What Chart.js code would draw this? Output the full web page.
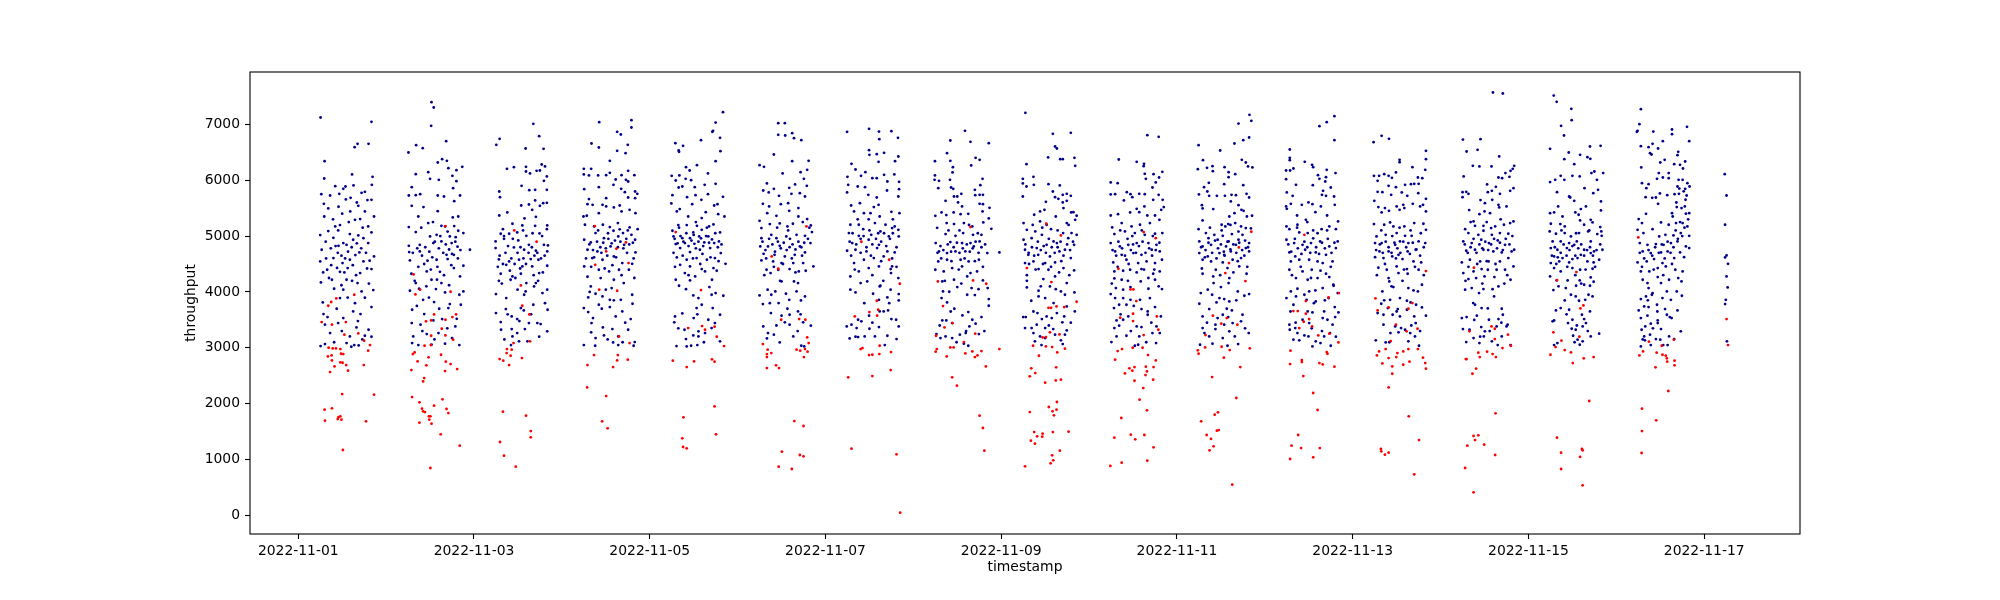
<!DOCTYPE html>
<html>
<head>
<meta charset="utf-8">
<script src="https://cdn.jsdelivr.net/npm/chart.js@4.4.1/dist/chart.umd.min.js"></script>
<style>
  html, body { margin: 0; padding: 0; background: #fff; }
  #wrap { width: 2000px; height: 600px; }
</style>
</head>
<body>
<div id="wrap"><canvas id="chart" width="2000" height="600"></canvas></div>
<script>
// timestamps are kept as [hour of day, throughput] per calendar day
const dayLabels = ['2022-11-01', '2022-11-02', '2022-11-03', '2022-11-04', '2022-11-05', '2022-11-06',
    '2022-11-07', '2022-11-08', '2022-11-09', '2022-11-10', '2022-11-11', '2022-11-12',
    '2022-11-13', '2022-11-14', '2022-11-15', '2022-11-16', '2022-11-17'];
const xTickDays = [0, 2, 4, 6, 8, 10, 12, 14, 16];
const yTicks = [0, 1000, 2000, 3000, 4000, 5000, 6000, 7000];

// normal readings (dark blue)
const blue01 = [[6.1,7121],[20.0,7043],[15.4,6590],[16.2,6650],[19.2,6650],[7.2,6340],[7.1,6030],[14.7,6102],[20.3,6060],[20.1,5917],[10.1,5893],[12.3,5845],[12.9,5887],[15.1,5905],[6.3,5750],[8.7,5726],[11.2,5756],[14.3,5684],[17.3,5774],[18.2,5792],[7.0,5577],[13.0,5655],[20.0,5649],[8.2,5494],[11.0,5524],[14.2,5440],[16.4,5541],[18.9,5643],[7.1,5350],[18.2,5440],[20.7,5350],[10.1,5172],[11.4,5196],[15.5,5291],[16.9,5303],[19.1,5172],[6.0,5017],[8.2,5089],[14.1,5035],[16.4,5011],[20.0,5065],[9.6,4969],[12.3,4874],[15.0,4934],[17.8,4963],[19.1,4874],[6.4,4755],[11.0,4826],[13.2,4844],[16.7,4707],[20.7,4635],[6.0,4546],[9.6,4606],[12.1,4516],[14.1,4576],[17.8,4546],[20.0,4409],[7.9,4397],[11.4,4361],[13.5,4427],[16.9,4337],[6.2,4171],[9.2,4218],[13.2,4218],[16.2,4159],[9.8,4057],[12.3,4040],[17.3,4010],[20.5,4034],[6.7,3813],[11.4,3890],[18.2,3896],[6.9,3604],[12.3,3533],[15.0,3652],[17.0,3604],[20.0,3729],[7.3,3414],[10.9,3444],[15.9,3366],[19.2,3324],[8.7,3265],[14.1,3205],[18.2,3217],[20.0,3199],[6.1,3032],[7.3,3068],[13.2,3086],[15.3,3050],[16.5,3044],
    [7.5,4900],[8.9,4780],[10.2,4820],[10.8,4700],[11.8,4650],[12.8,4600],[13.6,4720],[14.6,4800],[15.6,4660],[16.0,4870],[17.2,4780],[18.5,4700],[19.5,4560],[9.0,4480],[10.6,4430],[12.6,4350],[14.9,4480],[15.8,4300],[18.8,4420],[8.4,4250],[11.8,4120],[14.7,4200],[19.3,4150],[7.6,4600],[6.8,4350],[10.9,5100],[13.8,5250],[17.6,5150],[12.0,5400],[16.0,5600],[9.5,5300],[13.5,3900],[15.5,3800],[10.5,3700],[8.0,3550],[16.3,3480],[11.9,3300],[17.5,3150],[9.8,3100],[14.5,3020]];
const blue02 = [[12.4,7395],[13.0,7300],[12.3,6972],[6.1,6495],[8.2,6626],[10.0,6572],[16.4,6698],[14.1,6316],[15.3,6376],[16.6,6346],[20.8,6239],[17.0,6215],[19.2,6179],[8.1,6108],[11.5,6143],[14.4,6006],[18.1,6078],[12.0,6024],[7.0,5875],[19.2,5982],[18.3,5857],[6.2,5726],[8.1,5732],[9.3,5750],[14.1,5726],[15.8,5708],[20.2,5726],[18.6,5625],[7.0,5541],[10.2,5518],[14.1,5446],[18.2,5333],[19.7,5350],[6.2,5160],[8.8,5350],[11.5,5232],[15.1,5184],[16.1,5172],[18.6,5178],[8.1,5071],[12.0,4993],[13.8,5023],[17.4,4993],[21.1,5053],[19.7,5095],[6.2,4826],[9.2,4844],[12.9,4874],[15.1,4904],[17.9,4874],[22.9,4755],[6.3,4713],[9.2,4725],[16.5,4665],[18.5,4665],[6.5,4564],[11.3,4558],[13.8,4576],[16.8,4588],[21.1,4469],[6.9,4326],[11.1,4367],[14.7,4361],[20.2,4278],[18.5,4427],[8.1,4159],[12.4,4218],[15.1,4159],[6.5,4022],[9.0,4057],[13.6,4051],[16.1,3992],[21.1,4010],[10.1,3860],[13.1,3819],[17.4,3783],[7.1,3682],[10.4,3604],[17.0,3712],[20.4,3771],[7.0,3444],[9.4,3414],[12.9,3491],[15.3,3515],[18.9,3384],[7.4,3205],[11.1,3247],[14.3,3265],[18.0,3175],[7.1,3086],[8.8,3050],[12.4,3056],[16.1,3074],
    [7.3,4700],[8.5,4780],[9.8,4650],[10.7,4800],[11.8,4720],[12.6,4620],[13.3,4900],[14.4,4780],[15.6,4700],[16.3,4850],[17.2,4760],[18.0,4680],[18.9,4900],[19.5,4810],[20.3,4750],[8.8,4450],[10.4,4500],[12.2,4400],[14.0,4450],[15.8,4300],[17.8,4480],[19.6,4600],[9.6,5150],[12.8,5250],[14.8,5000],[16.8,5080],[19.0,4980],[7.8,4200],[11.0,4100],[13.9,4220],[17.2,4120],[20.0,3950],[8.4,3750],[11.7,3900],[14.5,3700],[19.3,3520],[9.9,3300],[13.2,3150],[16.7,3350],[20.0,3050]];
const blue03 = [[16.2,7008],[17.8,6787],[7.0,6739],[6.1,6632],[14.1,6566],[19.0,6560],[9.0,6203],[10.9,6233],[14.2,6239],[14.2,6155],[15.3,6120],[17.1,6167],[18.0,6173],[18.5,6280],[19.4,6245],[19.9,6066],[19.1,5988],[13.0,5899],[6.9,5797],[7.1,5696],[15.1,5821],[16.7,5827],[19.9,5827],[12.9,5547],[15.0,5565],[16.7,5637],[18.0,5541],[18.9,5589],[19.9,5595],[15.9,5470],[6.9,5368],[9.1,5422],[13.8,5315],[16.9,5345],[10.5,5220],[13.2,5190],[16.7,5184],[20.0,5190],[19.9,5124],[7.9,5124],[7.3,5041],[9.6,5041],[11.8,5065],[14.3,5005],[17.9,5047],[5.9,4904],[8.2,4951],[12.1,4922],[15.0,4844],[19.1,4844],[20.2,4832],[5.9,4785],[10.9,4796],[13.7,4755],[16.9,4737],[20.0,4725],[6.8,4582],[9.6,4546],[12.3,4576],[15.5,4588],[17.6,4576],[8.8,4486],[13.2,4457],[15.9,4457],[20.0,4469],[7.3,4326],[10.5,4278],[12.8,4326],[17.8,4337],[6.8,4200],[10.0,4218],[14.3,4159],[16.9,4159],[20.0,4040],[6.0,3962],[8.8,3890],[11.9,4040],[14.1,4010],[16.4,4099],[18.7,3980],[8.7,3694],[12.8,3712],[16.2,3771],[20.1,3682],[6.0,3622],[10.3,3563],[13.6,3670],[18.2,3426],[7.3,3462],[11.8,3515],[15.0,3444],[20.0,3295],[7.4,3324],[10.3,3336],[11.8,3265],[13.9,3336],[17.3,3444],[10.5,3205],[12.3,3116],[14.6,3116],[10.1,3050],
    [7.0,4650],[7.9,4500],[8.6,4700],[9.3,4820],[10.2,4600],[11.1,4500],[11.9,4700],[12.7,4800],[13.5,4600],[14.2,4500],[14.9,4700],[15.8,4800],[16.5,4650],[17.3,4700],[18.3,4600],[19.3,4650],[6.5,4450],[9.8,4380],[12.6,4420],[16.3,4300],[18.8,4350],[8.2,5000],[10.6,4950],[13.4,5100],[16.0,5050],[18.6,5000],[7.6,4150],[11.3,4250],[13.7,3950],[17.5,4200],[19.4,3800],[9.2,3600],[12.4,3480],[15.6,3600],[17.8,3200],[8.3,3150]];
const blue04 = [[10.2,7037],[19.0,7073],[19.0,6942],[15.1,6864],[16.1,6817],[8.1,6656],[10.1,6584],[18.0,6632],[15.1,6525],[13.1,6346],[17.4,6483],[6.0,6203],[8.0,6203],[6.0,6102],[7.4,6084],[9.9,6084],[12.1,6090],[13.1,6131],[14.7,6012],[16.3,6090],[18.1,6167],[19.8,6090],[14.1,5917],[16.2,5845],[17.5,6006],[18.1,5976],[6.1,5839],[10.1,5875],[17.2,5786],[20.0,5797],[20.6,5756],[7.4,5661],[12.1,5678],[18.1,5690],[20.0,5678],[7.0,5571],[8.4,5559],[11.1,5559],[14.2,5512],[15.8,5547],[18.5,5470],[10.1,5410],[12.1,5530],[16.3,5440],[20.1,5410],[5.9,5350],[8.8,5172],[11.2,5202],[13.1,5160],[15.3,5232],[18.5,5154],[20.7,5124],[6.3,5202],[6.8,5363],[9.2,5053],[14.1,5095],[16.7,5053],[19.0,5023],[6.1,4934],[7.9,4886],[11.5,4963],[15.4,4993],[20.0,4934],[7.0,4755],[9.7,4725],[13.3,4814],[17.0,4844],[20.1,4707],[8.3,4606],[11.1,4576],[14.2,4635],[16.5,4516],[19.2,4504],[6.1,4457],[10.1,4397],[12.9,4367],[15.6,4397],[18.3,4397],[7.0,4272],[10.6,4248],[14.2,4218],[16.9,4159],[7.9,4099],[12.0,4040],[13.6,4069],[19.2,3950],[7.2,3902],[9.2,3968],[11.1,3920],[13.1,3860],[16.1,3860],[10.1,3771],[13.1,3729],[16.5,3652],[19.3,3789],[6.0,3712],[8.5,3533],[14.7,3563],[18.8,3515],[7.2,3640],[8.1,3444],[11.2,3366],[13.8,3336],[18.1,3324],[8.0,3277],[9.2,3175],[11.5,3223],[15.4,3205],[6.0,3050],[9.1,3038],[14.0,3098],[15.4,3050],[19.6,3038],[19.9,3104],
    [7.5,4850],[8.5,4750],[9.6,4900],[10.5,4800],[11.3,4880],[12.0,4780],[12.7,4950],[13.6,4870],[14.5,4920],[15.3,4800],[16.0,4900],[16.8,4780],[17.6,4950],[18.4,4850],[19.4,4880],[6.6,4600],[8.8,4620],[10.8,4700],[12.4,4650],[14.8,4620],[17.8,4700],[19.6,4600],[9.9,5100],[12.6,5050],[15.8,5120],[18.0,5100],[8.0,4450],[11.7,4420],[13.8,4480],[16.3,4300],[19.8,4250],[7.6,4000],[10.9,3700],[14.2,3850],[17.3,3450],[12.5,3150],[16.6,3100]];
const blue05 = [[20.0,7216],[18.0,7031],[17.3,6882],[17.1,6864],[7.0,6662],[9.1,6614],[7.9,6531],[8.0,6507],[14.0,6716],[19.2,6757],[19.3,6519],[18.0,6340],[9.9,6233],[12.9,6269],[10.9,6173],[6.0,6078],[8.1,6084],[15.9,6120],[7.1,5994],[9.8,6024],[11.3,6000],[7.9,5869],[8.9,5887],[12.3,5875],[15.0,5917],[18.0,5935],[6.2,5732],[10.2,5696],[12.5,5732],[15.9,5750],[20.0,5702],[5.9,5583],[8.2,5482],[11.6,5571],[14.1,5649],[17.6,5547],[18.5,5571],[7.4,5440],[10.5,5350],[15.3,5428],[18.7,5392],[20.4,5350],[10.1,5196],[12.9,5184],[14.2,5321],[16.2,5172],[17.4,5208],[6.2,5095],[7.8,5196],[11.9,5065],[14.2,5112],[19.2,5065],[6.5,4993],[8.9,4963],[11.0,4963],[13.5,4993],[16.0,4993],[18.9,4904],[7.1,4856],[9.6,4874],[12.2,4862],[14.9,4886],[17.6,4874],[8.3,4785],[11.0,4713],[13.7,4755],[16.5,4785],[19.4,4695],[7.4,4618],[10.1,4576],[12.8,4606],[15.6,4576],[17.8,4606],[8.3,4486],[11.0,4457],[14.2,4409],[17.4,4427],[20.7,4504],[7.1,4218],[9.6,4337],[12.4,4278],[15.1,4367],[18.3,4379],[8.0,4111],[11.0,4206],[17.0,4218],[16.3,4087],[11.9,3938],[13.3,3890],[18.0,3980],[20.1,3932],[14.2,3771],[17.2,3712],[12.8,3712],[19.2,3592],[6.9,3563],[8.9,3616],[12.0,3533],[16.0,3503],[6.7,3456],[9.5,3324],[11.9,3223],[13.3,3295],[16.9,3354],[17.8,3444],[9.9,3158],[13.3,3205],[15.1,3265],[19.2,3116],[7.3,3032],[10.1,3026],[11.3,3038],[13.0,3050],
    [6.8,4950],[7.6,4870],[8.4,5000],[9.2,4900],[10.0,5050],[10.6,4820],[11.4,4920],[12.0,5020],[12.6,4780],[13.3,4900],[14.0,4960],[14.6,4820],[15.4,5000],[16.2,4880],[17.0,4940],[17.9,5050],[18.6,4800],[6.5,4700],[9.0,4650],[11.8,4600],[14.4,4680],[16.6,4620],[19.6,4850],[8.0,5150],[12.6,5250],[15.6,5150],[6.9,4450],[10.6,4300],[13.8,4500],[18.8,4550],[9.9,4050],[13.0,3600],[16.9,3950],[7.8,3350],[14.8,3100]];
const blue06 = [[11.1,7019],[12.9,7019],[11.1,6811],[13.0,6799],[14.9,6841],[15.4,6751],[17.4,6716],[9.9,6459],[6.0,6269],[7.2,6239],[14.9,6340],[19.4,6346],[19.0,6185],[17.2,6143],[12.3,6120],[8.0,5941],[7.0,5815],[14.1,5863],[15.7,5923],[18.1,6024],[18.9,5899],[8.5,5780],[9.9,5845],[11.3,5720],[14.7,5756],[17.0,5768],[18.4,5708],[6.9,5577],[8.6,5530],[11.8,5571],[13.8,5589],[16.6,5500],[8.1,5410],[10.6,5362],[14.1,5452],[16.6,5350],[19.0,5303],[6.0,5273],[6.5,5142],[8.8,5214],[11.5,5226],[13.6,5172],[15.1,5220],[20.0,5190],[6.5,4963],[9.2,5023],[10.6,4963],[13.3,4993],[16.1,5023],[18.4,5005],[20.3,5071],[6.2,4814],[8.3,4814],[11.5,4826],[14.2,4802],[17.0,4814],[19.9,4874],[7.1,4683],[10.1,4665],[12.9,4635],[15.6,4665],[18.4,4707],[6.5,4564],[9.7,4546],[12.0,4516],[15.2,4516],[17.9,4516],[20.7,4457],[7.9,4397],[11.1,4397],[14.2,4409],[16.7,4367],[18.6,4379],[9.0,4337],[12.0,4189],[15.4,4189],[16.5,4159],[8.2,4040],[10.3,4010],[13.2,3968],[16.1,4010],[17.3,3849],[6.0,3938],[6.9,3783],[9.2,3950],[11.2,3801],[14.1,3860],[18.4,3920],[9.1,3622],[12.0,3575],[14.2,3592],[16.5,3652],[7.0,3384],[8.3,3265],[9.9,3235],[12.9,3456],[14.2,3414],[17.9,3456],[20.0,3396],[8.0,3169],[11.5,3098],[15.2,3205],[17.4,3038],[18.2,3026],
    [6.8,4900],[7.6,4750],[8.6,4950],[9.5,4850],[10.2,4720],[11.0,4900],[11.8,4780],[12.6,4880],[13.4,4750],[14.3,4950],[15.0,4850],[15.8,4760],[16.6,4900],[17.4,4800],[18.2,4880],[19.2,4950],[7.8,4600],[9.9,4450],[12.4,4500],[14.8,4600],[17.6,4650],[10.8,5150],[13.8,5100],[17.8,5250],[19.6,5150],[7.3,4300],[11.6,4200],[15.8,4350],[8.8,3800],[13.6,3700],[17.2,3600],[10.6,3400],[16.4,3300]];
const blue07 = [[5.9,6864],[11.9,6918],[14.6,6870],[18.0,6876],[14.7,6733],[19.8,6757],[11.9,6537],[12.0,6453],[14.0,6465],[16.0,6489],[14.5,6328],[19.0,6340],[19.9,6423],[7.1,6292],[8.2,6191],[10.9,6143],[6.0,6060],[9.7,6078],[12.8,6036],[16.0,6096],[18.8,6102],[20.1,5970],[6.2,5917],[8.8,5887],[10.8,5875],[14.0,6036],[16.9,5976],[20.1,5839],[5.9,5780],[11.7,5738],[14.0,5690],[16.8,5815],[19.9,5708],[7.0,5547],[9.4,5589],[13.2,5518],[14.5,5559],[20.2,5410],[7.8,5440],[10.5,5410],[12.3,5410],[18.0,5434],[6.8,5202],[9.1,5202],[13.5,5232],[16.4,5202],[18.9,5172],[6.4,5053],[10.3,5124],[12.5,5023],[15.0,5083],[18.2,5142],[19.9,5112],[7.3,4874],[9.1,5005],[11.8,4934],[14.6,4844],[17.3,4993],[20.0,4993],[5.9,4737],[8.2,4755],[11.2,4725],[14.1,4785],[16.9,4725],[18.9,4707],[7.8,4516],[10.5,4576],[13.2,4606],[15.9,4635],[18.2,4457],[6.8,4278],[9.1,4367],[11.8,4427],[14.6,4457],[17.8,4409],[9.6,4159],[11.4,4189],[14.8,4099],[17.9,4337],[19.9,4248],[6.8,4040],[8.2,3992],[15.0,4111],[17.8,4040],[20.0,3962],[13.0,3968],[14.6,3860],[20.0,3849],[16.9,3902],[14.8,3652],[15.9,3652],[17.1,3670],[11.9,3575],[8.9,3503],[9.8,3474],[18.0,3515],[19.3,3503],[5.8,3384],[7.1,3414],[8.5,3354],[12.0,3342],[14.6,3372],[20.0,3384],[6.6,3169],[8.9,3193],[10.7,3205],[13.5,3205],[16.9,3217],[19.4,3158],
    [6.6,4900],[7.4,5050],[8.4,4850],[9.6,4950],[10.4,5000],[11.2,4800],[12.0,5100],[12.8,4850],[13.8,4950],[14.4,5050],[15.2,4900],[16.0,5050],[16.6,4820],[17.6,4950],[18.4,5050],[19.4,4800],[7.0,4650],[9.6,4700],[12.4,4650],[15.2,4550],[18.2,4600],[8.8,5300],[11.8,5300],[14.8,5350],[18.4,5300],[8.0,4400],[12.8,4300],[15.8,4200],[19.4,4450],[10.6,3800],[17.4,3800],[12.8,3450],[8.2,3200],[16.2,3050]];
const blue08 = [[14.1,6882],[10.1,6710],[15.6,6686],[20.6,6662],[9.2,6483],[5.9,6340],[10.1,6346],[17.0,6400],[18.1,6364],[15.8,6263],[10.8,6233],[10.7,6138],[5.9,6084],[5.8,6006],[10.0,6006],[7.0,5988],[18.9,6024],[18.3,5911],[6.8,5857],[10.9,5845],[10.3,5869],[16.8,5827],[18.1,5738],[19.0,5738],[16.9,5732],[13.1,5756],[12.0,5708],[11.1,5708],[8.8,5631],[12.2,5601],[13.3,5530],[18.1,5577],[19.0,5571],[20.8,5506],[7.7,5422],[9.0,5375],[11.0,5422],[12.9,5392],[15.0,5398],[18.9,5440],[20.6,5315],[6.0,5362],[6.5,5148],[9.1,5232],[11.1,5214],[13.8,5232],[16.1,5172],[19.1,5244],[8.8,5035],[11.5,5005],[13.6,5053],[16.3,5023],[18.6,5023],[21.3,5130],[6.1,4874],[10.1,4892],[13.3,4874],[15.6,4874],[18.1,4904],[7.0,4725],[9.2,4695],[11.5,4725],[14.2,4725],[16.5,4814],[20.2,4695],[23.5,4707],[6.8,4546],[9.2,4576],[12.9,4576],[15.1,4546],[17.9,4576],[6.0,4397],[8.3,4367],[10.6,4427],[13.3,4457],[15.6,4337],[17.4,4367],[7.9,4189],[11.1,4218],[14.7,4278],[19.0,4206],[20.3,4069],[8.1,4010],[9.8,4004],[12.0,4087],[15.9,4069],[7.7,3890],[9.2,3813],[11.2,3700],[14.7,3950],[16.8,3944],[20.6,3872],[20.6,3753],[13.4,3581],[15.0,3640],[16.1,3503],[7.9,3491],[9.0,3491],[10.6,3444],[15.3,3384],[17.0,3432],[6.3,3247],[7.4,3175],[8.8,3205],[10.6,3175],[14.3,3265],[17.9,3247],[19.4,3300],[12.7,3235],[15.0,3038],[13.8,3074],
    [6.6,4700],[7.4,4820],[8.2,4750],[9.4,4850],[10.3,4720],[11.0,4800],[11.9,4880],[12.6,4700],[13.5,4780],[14.6,4850],[15.4,4720],[16.2,4780],[17.0,4900],[17.8,4700],[18.6,4800],[19.6,4850],[7.6,4600],[10.4,4550],[12.4,4400],[14.0,4600],[16.8,4550],[19.0,4450],[9.6,5100],[12.6,5100],[15.2,5200],[17.6,5050],[8.6,4200],[13.1,4150],[17.8,4050],[10.2,3650],[14.4,3300],[18.6,3550],[7.2,3400],[11.8,3100]];
const blue09 = [[6.6,7204],[14.1,6829],[19.0,6847],[14.7,6602],[15.2,6566],[12.8,6406],[16.1,6376],[16.8,6376],[20.0,6400],[20.2,6257],[6.9,6286],[5.9,6024],[5.9,5941],[8.8,6060],[8.9,5917],[6.9,5887],[12.9,5929],[16.0,5905],[5.9,5708],[14.1,5797],[14.7,5696],[17.9,5756],[19.0,5720],[15.6,5666],[16.8,5738],[12.2,5613],[16.8,5601],[17.9,5631],[11.8,5470],[10.6,5440],[9.0,5381],[17.0,5500],[19.1,5422],[19.7,5428],[20.6,5363],[6.1,5232],[10.6,5261],[12.4,5202],[14.9,5350],[17.9,5232],[20.2,5291],[7.0,5112],[9.3,5083],[13.6,5124],[16.9,5053],[19.2,5053],[6.1,4934],[8.3,4963],[11.1,5023],[14.3,4904],[18.3,4963],[20.6,5023],[6.5,4755],[9.7,4785],[12.4,4844],[15.2,4874],[17.4,4755],[19.9,4844],[7.4,4665],[10.1,4665],[13.3,4635],[15.9,4725],[19.0,4606],[6.5,4516],[8.8,4546],[12.0,4516],[14.7,4528],[17.0,4427],[10.2,4409],[12.9,4397],[15.8,4349],[19.9,4385],[7.0,4200],[11.5,4230],[14.7,4278],[17.9,4159],[7.0,4081],[10.2,4022],[13.3,4099],[16.3,4010],[20.0,3992],[8.2,3843],[10.2,3920],[12.0,3890],[14.3,3801],[17.9,3741],[9.9,3622],[12.4,3563],[15.2,3622],[17.2,3563],[20.1,3652],[6.0,3551],[6.7,3551],[11.1,3515],[13.8,3533],[16.7,3456],[6.5,3354],[8.3,3354],[9.7,3414],[12.0,3354],[14.2,3336],[17.9,3312],[8.8,3265],[10.6,3205],[14.7,3235],[16.3,3134],[17.4,3235],[9.2,3116],[12.0,3175],[16.8,3068],
    [6.6,4850],[7.5,4700],[8.4,4800],[9.0,4650],[10.0,4900],[10.8,4750],[11.6,4820],[12.2,4700],[13.0,4950],[13.8,4800],[14.6,4700],[15.4,4800],[16.2,4900],[17.0,4650],[18.0,4850],[18.8,4750],[19.6,4900],[7.6,4500],[9.4,4400],[11.4,4500],[13.6,4450],[16.4,4550],[18.6,4300],[8.6,5200],[11.2,5150],[15.4,5100],[18.4,5200],[7.0,4300],[10.8,4100],[14.9,4050],[17.4,3950],[8.8,3650],[13.0,3400],[19.0,3450],[11.0,3050]];
const blue10 = [[15.9,6805],[19.0,6775],[8.1,6370],[13.0,6328],[15.0,6292],[14.9,6251],[15.2,6114],[17.6,6108],[19.1,6048],[20.0,6149],[15.5,6024],[5.9,5959],[7.8,5947],[18.2,5959],[17.3,5869],[5.9,5744],[7.1,5750],[10.3,5786],[11.3,5750],[13.7,5756],[15.2,5750],[19.0,5738],[9.5,5637],[11.8,5696],[15.1,5530],[17.5,5649],[20.1,5649],[5.9,5368],[7.9,5392],[11.2,5422],[13.0,5488],[13.7,5428],[15.9,5368],[18.0,5368],[19.7,5470],[20.4,5518],[6.3,5154],[8.9,5232],[11.6,5172],[13.9,5202],[16.6,5232],[19.2,5291],[6.9,5035],[9.8,5083],[12.5,5053],[15.2,5023],[18.0,5041],[20.0,5053],[5.9,4874],[8.4,4814],[10.7,4844],[13.0,4874],[16.2,4874],[18.4,4844],[7.1,4725],[8.9,4665],[12.1,4695],[14.3,4665],[17.1,4755],[19.3,4725],[6.6,4528],[10.2,4576],[13.4,4516],[15.7,4546],[18.0,4516],[19.9,4576],[6.9,4367],[9.3,4379],[11.2,4397],[14.3,4409],[17.5,4326],[19.3,4367],[6.9,4242],[8.9,4218],[14.1,4189],[18.0,4218],[7.3,4069],[9.3,4040],[11.3,4087],[16.2,4057],[19.9,4051],[5.9,3962],[7.1,3890],[9.3,3890],[11.3,3860],[13.9,3860],[16.6,3890],[6.8,3712],[8.2,3771],[10.2,3771],[14.3,3694],[16.0,3652],[18.0,3729],[7.5,3491],[9.3,3503],[10.7,3563],[16.0,3592],[19.6,3563],[6.9,3354],[8.2,3396],[13.0,3384],[14.3,3372],[18.4,3384],[7.5,3205],[10.2,3217],[13.7,3205],[17.3,3265],[19.3,3265],[6.1,3104],[12.5,3038],[13.4,3056],[18.3,3086],
    [6.4,4750],[7.4,4650],[8.0,4900],[9.0,4780],[9.8,4650],[10.5,4950],[11.4,4750],[12.0,4850],[12.8,4700],[13.6,4820],[14.6,4900],[15.4,4700],[16.4,4780],[17.2,4650],[18.2,4750],[19.2,4880],[7.8,4450],[10.8,4500],[13.0,4350],[15.0,4400],[17.8,4400],[8.5,5100],[11.8,5000],[14.4,5100],[17.4,5000],[6.2,4150],[10.6,4200],[16.2,4250],[19.0,4100],[8.6,3600],[12.2,3750],[17.0,3450],[11.4,3300],[15.6,3100]];
const blue11 = [[19.8,7168],[20.3,7061],[16.8,7013],[18.1,6716],[19.7,6763],[15.7,6656],[5.9,6626],[11.8,6531],[7.1,6358],[17.7,6364],[18.8,6316],[19.4,6245],[20.6,6227],[5.7,6197],[8.2,6221],[9.7,6251],[9.8,6161],[13.0,6233],[14.1,6143],[15.9,6108],[14.1,6054],[8.7,5953],[12.9,5929],[18.1,5911],[7.4,5875],[8.3,5797],[6.0,5744],[8.8,5720],[10.9,5720],[13.1,5720],[14.9,5738],[16.1,5732],[19.0,5756],[19.7,5690],[6.8,5553],[7.0,5494],[9.9,5482],[14.7,5619],[16.8,5553],[17.6,5470],[18.2,5452],[14.3,5350],[15.7,5410],[19.1,5350],[20.5,5363],[7.0,5279],[12.2,5202],[13.2,5172],[14.0,5214],[15.9,5232],[17.5,5172],[18.8,5142],[20.2,5136],[5.9,5124],[7.9,5053],[10.2,5023],[12.5,5005],[15.0,5035],[17.9,5023],[6.1,4904],[8.6,4963],[11.1,4934],[14.1,4904],[16.8,4934],[19.7,4874],[7.0,4814],[9.3,4844],[13.4,4814],[16.1,4844],[18.8,4785],[6.1,4695],[8.4,4635],[11.6,4695],[12.9,4665],[14.7,4725],[19.7,4725],[7.0,4576],[9.3,4546],[12.5,4528],[15.2,4576],[17.5,4606],[10.6,4397],[13.8,4427],[17.0,4457],[7.0,4326],[9.9,4278],[14.3,4248],[19.0,4326],[10.0,4159],[14.1,4159],[8.4,4040],[12.0,4087],[16.6,4010],[19.7,3962],[6.5,3980],[11.6,3890],[12.9,3872],[18.4,3932],[10.8,3813],[14.3,3831],[6.1,3789],[8.8,3694],[7.0,3563],[11.1,3533],[12.5,3592],[15.0,3670],[17.9,3592],[10.5,3414],[12.9,3414],[15.2,3444],[17.5,3474],[7.0,3354],[10.5,3336],[14.3,3295],[19.6,3265],[7.5,3265],[8.8,3205],[12.5,3175],[15.8,3205],[6.3,3056],[9.7,3074],[13.8,3038],[16.7,3068],
    [6.6,4800],[7.8,4750],[8.6,4880],[9.6,4700],[10.4,4920],[11.2,4780],[12.0,4850],[12.8,4720],[13.8,4900],[14.6,4760],[15.4,4850],[16.2,4700],[17.0,4880],[17.8,4750],[18.6,4920],[19.4,4800],[7.6,4620],[10.8,4600],[13.0,4650],[16.6,4550],[18.4,4650],[9.0,5150],[12.2,5100],[14.6,5200],[16.8,5080],[6.8,4420],[11.8,4300],[15.4,4350],[19.2,4450],[9.6,3950],[13.6,3700],[16.2,3850],[8.2,3450],[14.0,3550],[18.6,3350]];
const blue12 = [[19.0,7145],[16.9,7037],[14.9,6966],[19.0,6716],[6.8,6549],[6.8,6400],[6.8,6358],[10.9,6328],[12.9,6275],[13.2,6233],[5.8,6173],[6.9,6173],[7.8,6209],[16.9,6185],[19.3,6126],[14.5,6090],[14.9,6024],[16.7,6054],[5.8,6018],[8.5,5917],[13.1,5911],[16.5,5976],[18.0,5869],[15.9,5809],[6.0,5780],[7.6,5720],[15.6,5738],[16.7,5720],[18.9,5708],[10.1,5559],[11.9,5601],[13.0,5571],[15.3,5530],[19.1,5559],[5.8,5530],[7.1,5577],[6.0,5488],[8.8,5368],[11.2,5291],[13.8,5428],[17.0,5368],[20.0,5261],[5.9,5172],[6.7,5124],[8.9,5202],[9.4,5065],[11.7,5053],[13.2,5101],[15.5,5124],[17.6,5172],[19.4,5124],[5.9,4934],[8.0,4874],[10.3,4844],[12.6,4874],[15.1,4904],[17.6,4814],[19.9,4904],[6.7,4707],[8.3,4635],[11.0,4755],[13.9,4707],[16.7,4665],[19.4,4785],[7.1,4546],[9.4,4576],[12.1,4576],[14.4,4546],[15.8,4516],[18.5,4546],[6.7,4397],[10.3,4367],[12.8,4397],[16.7,4326],[17.6,4266],[8.5,4248],[11.7,4218],[14.4,4248],[18.7,4129],[7.1,4010],[8.9,4057],[12.1,4010],[13.8,4028],[15.8,4069],[18.8,4111],[5.9,3890],[8.5,3920],[11.4,3860],[13.9,3831],[17.4,3890],[19.9,3980],[7.8,3771],[11.7,3652],[13.0,3634],[16.2,3652],[19.1,3729],[20.1,3634],[6.7,3414],[8.3,3354],[10.3,3503],[12.1,3444],[15.8,3533],[17.1,3503],[18.5,3414],[6.8,3324],[8.9,3265],[10.8,3223],[11.9,3205],[13.9,3116],[16.2,3205],[17.8,3265],[7.8,3146],[9.4,3134],[13.0,3026],[15.2,3086],[18.0,3038],
    [6.4,4850],[7.2,4720],[8.2,4950],[9.0,4780],[10.0,4680],[10.8,4900],[11.6,4800],[12.4,4700],[13.2,4960],[14.0,4800],[14.8,4680],[15.6,4880],[16.4,4780],[17.2,4950],[18.2,4700],[19.0,4880],[7.4,4300],[9.8,4450],[12.6,4250],[15.2,4380],[18.0,4450],[8.8,5150],[11.6,5250],[14.4,5050],[17.0,5100],[7.0,3650],[10.8,3950],[13.4,3800],[16.4,3850],[19.2,3550],[8.4,3450],[12.8,3350],[15.6,3300],[19.4,3200]];
const blue13 = [[5.7,6680],[7.9,6793],[9.9,6739],[20.0,6525],[20.0,6376],[12.8,6364],[12.8,6322],[16.3,6233],[19.8,6185],[5.8,6078],[7.2,6078],[8.6,6108],[9.8,6078],[11.8,6138],[10.7,6042],[17.8,6048],[19.0,6036],[18.0,5935],[6.8,5988],[9.8,5899],[11.8,5875],[14.3,5917],[15.9,5929],[16.8,5935],[6.8,5792],[8.1,5786],[10.5,5738],[13.4,5780],[14.9,5720],[17.9,5768],[20.0,5666],[5.9,5631],[7.0,5518],[8.8,5500],[12.0,5530],[13.8,5559],[16.4,5577],[19.2,5559],[7.9,5422],[9.9,5452],[12.8,5470],[14.1,5500],[18.4,5530],[20.0,5440],[5.8,5214],[8.6,5202],[10.2,5244],[11.1,5172],[14.1,5172],[16.8,5232],[19.3,5220],[6.5,4993],[9.0,5023],[12.0,5053],[14.3,5005],[16.1,5005],[20.0,5112],[6.1,4874],[7.9,4874],[11.6,4844],[12.9,4904],[15.2,4874],[18.0,4904],[19.8,4874],[7.3,4725],[9.8,4725],[12.5,4665],[15.0,4725],[17.2,4755],[6.1,4623],[8.4,4606],[10.8,4635],[13.6,4588],[16.6,4546],[18.7,4528],[7.0,4433],[9.3,4397],[12.0,4457],[14.8,4409],[18.0,4397],[9.8,4248],[12.5,4337],[15.0,4326],[18.9,4129],[10.0,4189],[11.1,4087],[15.2,4069],[16.6,4028],[17.8,4010],[8.1,4010],[10.2,3860],[12.9,3890],[14.8,3843],[15.8,3813],[7.8,3789],[9.6,3712],[12.3,3694],[14.8,3682],[17.3,3771],[18.9,3723],[6.8,3622],[8.4,3592],[10.9,3592],[12.9,3563],[16.8,3563],[20.0,3575],[8.4,3414],[11.6,3384],[13.2,3354],[14.3,3324],[17.2,3444],[10.3,3265],[12.5,3277],[15.7,3265],[17.0,3205],[6.3,3134],[9.0,3098],[15.2,3116],[18.1,3038],
    [6.4,4750],[7.4,4850],[8.2,4700],[9.0,4900],[9.8,4800],[10.6,4700],[11.4,4880],[12.2,4780],[13.0,4700],[13.8,4900],[14.6,4800],[15.6,4680],[16.4,4880],[17.4,4760],[18.4,4650],[19.4,4800],[7.8,5100],[10.8,5000],[12.8,5150],[15.8,5100],[18.6,5050],[8.8,4500],[11.8,4600],[14.0,4400],[17.0,4450],[6.6,4300],[10.6,4100],[13.6,4200],[19.4,4300],[8.6,3850],[12.0,3650],[16.0,3400],[18.4,3300],[10.0,3100]];
const blue14 = [[14.3,7568],[17.0,7550],[6.1,6727],[10.9,6733],[7.1,6513],[10.1,6543],[16.0,6424],[8.8,6257],[10.6,6245],[13.9,6245],[20.1,6257],[19.7,6203],[19.1,6167],[17.7,6126],[6.3,6066],[15.8,6048],[16.8,6036],[18.8,6060],[19.9,5857],[12.7,5923],[6.0,5786],[7.0,5792],[7.6,5756],[12.9,5786],[14.0,5809],[15.1,5881],[16.2,5756],[19.0,5809],[6.0,5696],[10.9,5643],[12.1,5589],[14.1,5649],[15.8,5559],[18.0,5530],[7.8,5464],[10.6,5392],[12.0,5440],[13.5,5410],[16.0,5512],[9.0,5261],[6.7,5124],[9.4,5184],[11.7,5184],[13.8,5142],[14.9,5172],[17.3,5202],[19.0,5232],[19.9,5261],[7.6,5053],[10.3,5023],[11.7,5095],[14.0,5023],[16.2,5053],[18.5,5041],[6.2,4904],[8.5,4874],[11.1,4934],[13.2,4874],[15.6,4922],[17.6,4844],[20.1,4755],[7.0,4737],[9.4,4755],[11.7,4755],[14.4,4725],[16.7,4707],[19.4,4725],[5.8,4528],[8.0,4576],[10.8,4546],[13.1,4546],[16.2,4546],[18.5,4606],[19.9,4457],[6.2,4337],[9.0,4367],[11.2,4409],[12.9,4397],[15.3,4397],[17.6,4397],[7.6,4230],[9.7,4248],[12.0,4278],[14.7,4266],[19.1,4218],[6.7,4040],[8.5,4069],[10.5,3980],[11.7,4051],[14.6,3920],[15.8,4099],[8.9,3801],[9.4,3771],[11.2,3712],[12.9,3706],[16.7,3700],[17.0,3592],[5.8,3533],[7.1,3551],[9.9,3575],[13.2,3503],[15.8,3515],[18.3,3414],[6.1,3336],[7.9,3324],[11.1,3372],[12.1,3295],[15.3,3384],[18.0,3384],[7.0,3104],[9.0,3175],[10.6,3086],[11.8,3205],[14.0,3116],[16.7,3205],[19.1,3050],
    [6.6,4850],[7.4,4700],[8.2,4800],[9.0,4950],[9.8,4700],[10.6,4850],[11.4,4780],[12.2,4900],[13.0,4750],[13.8,4850],[14.6,4950],[15.4,4780],[16.2,4880],[17.0,4750],[17.8,4950],[18.8,4850],[19.6,5000],[7.6,4450],[10.0,4500],[12.6,4550],[15.0,4500],[18.2,4300],[8.2,5250],[12.6,5250],[16.4,5300],[6.8,4200],[11.4,4150],[14.2,4050],[17.4,4150],[9.2,3500],[13.4,3300],[16.6,3450],[10.8,3200],[15.6,3050]];
const blue15 = [[6.9,7514],[7.7,7401],[11.7,7276],[11.8,7073],[8.9,6972],[9.7,6799],[5.9,6560],[16.8,6602],[19.7,6614],[11.0,6495],[9.8,6376],[14.1,6453],[16.1,6412],[16.9,6382],[12.5,6286],[5.9,5965],[7.3,6006],[8.8,6078],[9.8,6006],[12.0,6078],[14.0,6066],[17.2,6126],[18.0,6155],[20.4,6126],[18.7,6006],[7.8,5786],[11.1,5708],[12.5,5631],[15.3,5857],[17.7,5768],[19.0,5827],[8.1,5530],[11.4,5690],[14.3,5482],[15.7,5530],[19.8,5619],[19.8,5458],[5.9,5410],[7.0,5422],[9.3,5350],[12.8,5422],[13.7,5381],[17.0,5291],[19.6,5160],[6.1,5220],[8.7,5214],[9.9,5172],[14.1,5279],[15.2,5202],[17.5,5244],[19.9,5083],[5.8,5083],[7.5,5041],[9.9,5053],[11.6,4993],[13.8,5053],[16.3,5083],[18.8,5035],[6.6,4904],[8.8,4904],[11.1,4874],[13.2,4904],[17.0,4904],[20.0,5005],[6.1,4785],[7.9,4755],[10.5,4785],[12.5,4844],[15.2,4755],[17.9,4725],[20.2,4755],[7.0,4635],[9.3,4606],[12.0,4588],[14.3,4665],[17.0,4695],[19.3,4576],[6.1,4516],[8.4,4546],[11.1,4528],[13.4,4606],[16.1,4546],[17.8,4528],[7.0,4427],[8.8,4367],[12.0,4427],[14.1,4397],[17.5,4415],[5.9,4278],[7.7,4206],[10.7,4206],[14.0,4206],[17.0,4260],[17.8,4183],[6.8,4034],[10.2,4069],[13.0,4111],[15.2,4129],[16.8,4111],[12.9,3920],[13.8,3843],[15.5,3860],[17.5,3920],[9.9,3849],[8.8,3712],[11.1,3682],[14.6,3592],[16.8,3652],[7.5,3670],[6.6,3474],[7.0,3491],[12.0,3503],[15.2,3515],[10.8,3444],[11.8,3342],[12.9,3324],[14.8,3384],[15.7,3444],[12.2,3217],[17.0,3205],[19.3,3253],[13.4,3146],[14.8,3116],[7.0,3050],[7.9,3086],[14.0,3056],
    [6.4,4650],[7.2,4800],[8.0,4620],[8.8,4700],[9.6,4850],[10.4,4650],[11.2,4750],[12.0,4820],[12.8,4650],[13.6,4780],[14.4,4850],[15.2,4650],[16.0,4750],[16.8,4800],[17.6,4650],[18.6,4750],[19.6,4850],[7.6,4500],[10.6,4450],[12.8,4300],[15.6,4400],[18.2,4450],[9.0,5100],[13.0,5050],[16.6,5100],[8.2,4100],[11.6,3950],[14.4,4150],[16.4,3950],[10.4,3600],[13.2,3400],[16.2,3300],[12.6,3100]];
const blue16 = [[6.7,7270],[6.3,7002],[5.8,6882],[5.6,6864],[10.1,6870],[15.2,6906],[15.2,6823],[19.3,6954],[19.9,6698],[6.7,6608],[8.8,6590],[9.9,6650],[11.4,6566],[12.7,6698],[16.9,6507],[16.7,6447],[6.8,6227],[9.2,6483],[9.6,6459],[12.0,6316],[13.2,6364],[14.3,6126],[15.8,6286],[17.4,6275],[18.2,6209],[18.8,6334],[11.6,6126],[12.7,6048],[14.3,6036],[18.1,6006],[19.4,5947],[20.0,5887],[17.0,6006],[7.0,5947],[8.2,5857],[8.8,5929],[11.1,6024],[16.7,5887],[18.8,5845],[8.0,5696],[9.8,5684],[10.8,5690],[11.9,5762],[13.9,5732],[15.9,5750],[17.1,5756],[19.2,5726],[11.4,5577],[16.5,5518],[18.7,5530],[19.9,5410],[15.2,5410],[6.1,5303],[8.1,5398],[12.2,5244],[14.3,5202],[16.3,5232],[18.1,5232],[19.4,5172],[7.0,5232],[5.8,5112],[7.4,5053],[9.9,5124],[11.7,4993],[13.4,5023],[15.6,5011],[17.6,5053],[19.9,5005],[6.4,4874],[8.5,4844],[10.8,4856],[12.9,4844],[14.9,4874],[16.7,4904],[19.0,4814],[7.2,4725],[9.4,4695],[12.2,4707],[14.0,4725],[17.4,4707],[19.9,4785],[5.8,4528],[8.3,4546],[10.3,4588],[12.6,4516],[15.8,4606],[18.5,4623],[6.7,4367],[9.0,4367],[11.3,4427],[13.5,4457],[16.1,4397],[18.1,4367],[7.2,4218],[8.5,4159],[11.3,4266],[12.2,4159],[14.4,4218],[16.9,4248],[17.8,4189],[8.8,4069],[9.9,3980],[13.8,4010],[16.5,4010],[6.7,3872],[8.1,3920],[9.7,3950],[12.6,3890],[14.9,3860],[17.9,3932],[6.1,3670],[7.6,3741],[8.8,3729],[11.1,3771],[13.3,3694],[16.7,3670],[6.7,3533],[8.5,3575],[11.3,3491],[13.8,3592],[15.1,3533],[17.6,3295],[6.9,3324],[7.9,3384],[9.4,3432],[11.3,3444],[12.2,3336],[7.6,3205],[9.2,3235],[12.0,3146],[14.4,3205],[15.8,3158],[6.7,3026],[7.8,3134],[9.4,3050],[10.8,3158],[14.0,3050],
    [6.4,4700],[7.6,4600],[8.8,4750],[9.8,4650],[10.6,4800],[11.6,4700],[12.4,4850],[13.2,4600],[14.0,4900],[14.8,4700],[15.6,4800],[16.2,5100],[16.8,4950],[17.4,5250],[18.0,5000],[18.6,5150],[19.0,5400],[19.6,5300],[17.8,5500],[18.4,5800],[16.4,5600],[17.2,5850],[18.9,5650],[15.4,5350],[7.0,4450],[10.2,4400],[12.8,4300],[15.2,4500],[8.6,3850],[11.2,3650],[14.6,3550],[7.2,3150],[10.0,3350],[12.8,3050]];
const blue17 = [[5.6,6108],[6.1,5726],[5.7,5202],[5.7,4618],[6.1,4653],[6.5,4504],[6.1,4278],[6.4,4081],[5.9,3860],[5.7,3783],[6.2,3116]];

// flagged readings (red)
const red01 = [[15.3,3950],[8.2,3753],[10.4,3884],[9.0,3820],[6.4,3462],[9.2,3414],[12.6,3235],[13.0,3462],[16.4,3259],[18.0,3128],[19.6,3050],[8.3,3002],[9.4,2990],[10.3,2990],[11.5,2979],[11.7,2895],[12.3,2889],[8.1,2847],[9.1,2865],[9.2,2776],[11.5,2740],[12.1,2734],[9.9,2668],[13.1,2692],[19.1,2949],[17.9,2692],[8.7,2567],[13.6,2591],[12.0,2174],[20.7,2162],[7.2,1894],[9.2,1918],[7.3,1697],[11.0,1762],[11.5,1774],[10.8,1727],[11.8,1715],[18.5,1685],[12.2,1173]];
const red02 = [[16.2,5178],[9.3,4040],[17.6,4004],[7.5,4314],[8.0,3956],[13.1,3598],[12.3,3491],[16.2,3503],[18.1,3551],[19.1,3598],[10.9,3474],[15.2,3342],[16.2,3223],[12.3,3217],[18.3,3146],[10.5,3038],[12.2,3050],[7.8,2919],[7.3,2889],[11.6,2830],[15.0,2877],[8.6,2758],[11.0,2687],[16.3,2752],[17.6,2710],[6.9,2603],[16.1,2585],[19.4,2621],[10.4,2460],[10.1,2400],[7.1,2120],[9.1,2025],[15.4,2079],[9.8,1912],[10.1,1864],[10.6,1852],[13.1,1965],[16.5,1906],[17.0,1834],[9.1,1661],[11.7,1775],[12.1,1775],[11.8,1715],[12.4,1643],[14.9,1453],[20.1,1250],[12.1,851]];
const red03 = [[11.0,5101],[17.1,4898],[12.8,4117],[13.2,3753],[15.1,3598],[15.3,3116],[10.8,3086],[9.0,2979],[10.3,2967],[8.9,2907],[10.0,2859],[13.1,2818],[7.0,2800],[8.0,2770],[9.6,2692],[7.9,1858],[14.2,1787],[15.5,1512],[15.5,1399],[7.1,1316],[8.2,1071],[11.4,875]];
const red04 = [[9.0,5178],[14.9,4773],[17.5,4886],[12.1,4725],[9.1,4486],[18.2,4516],[10.2,4040],[15.1,4022],[15.6,3205],[18.5,3086],[8.8,2871],[15.3,2871],[15.1,2776],[18.0,2788],[7.0,2692],[14.0,2657],[6.9,2293],[12.1,2138],[11.0,1685],[12.5,1560]];
const red05 = [[7.1,5071],[14.0,4034],[10.5,3354],[14.3,3390],[15.1,3324],[17.7,3378],[18.3,3199],[20.3,3032],[6.3,2770],[10.1,2657],[12.1,2758],[17.0,2794],[17.7,2752],[17.7,1953],[9.2,1757],[18.1,1453],[8.9,1381],[9.1,1226],[10.1,1203]];
const red06 = [[9.3,4635],[11.1,4415],[18.8,5172],[11.9,3503],[16.8,3515],[18.5,3503],[19.0,3187],[19.4,3086],[6.9,3068],[8.2,2967],[8.0,2889],[8.0,2835],[9.2,2907],[16.1,2967],[17.1,2949],[18.4,2979],[19.1,2931],[18.1,2835],[8.0,2639],[10.5,2687],[11.3,2639],[15.5,1691],[18.0,1602],[12.1,1143],[17.0,1083],[18.0,1060],[11.2,875],[14.8,833]];
const red07 = [[9.8,4898],[17.4,4576],[20.3,4147],[14.0,3843],[14.4,3682],[8.0,3563],[12.0,3640],[14.1,3575],[14.8,3038],[9.6,2979],[10.1,2997],[11.9,2871],[12.8,2877],[14.7,2889],[17.9,2925],[6.2,2472],[12.8,2496],[17.8,2603],[7.1,1197],[19.4,1095],[20.4,52]];
const red08 = [[15.6,5160],[16.3,4206],[19.9,4147],[6.7,4189],[8.1,3747],[10.7,3444],[8.5,3366],[6.2,3217],[13.8,3104],[16.9,3253],[6.4,2979],[6.1,2931],[10.1,3008],[11.0,3008],[9.1,2847],[14.2,2901],[16.1,2937],[16.8,2835],[17.5,2865],[18.6,2943],[23.5,2979],[19.8,2668],[10.6,2472],[11.9,2323],[18.1,1786],[19.0,1566],[19.4,1161]];
const red09 = [[12.3,5220],[16.3,5011],[7.0,4427],[13.7,4177],[20.6,3825],[12.9,3717],[13.6,3717],[15.1,3741],[17.2,3729],[15.9,3241],[13.3,3277],[11.3,3187],[12.2,3193],[8.7,3038],[12.2,3026],[13.9,3014],[17.4,2985],[15.3,2919],[10.3,2859],[8.2,2633],[15.0,2651],[9.3,2549],[7.8,2490],[14.9,2418],[16.3,2430],[12.0,2377],[15.2,2031],[13.0,1942],[14.0,1864],[15.1,1894],[14.4,1793],[7.8,1852],[9.0,1494],[11.3,1465],[9.8,1417],[11.2,1411],[14.1,1494],[18.4,1500],[8.1,1340],[9.2,1286],[16.0,1161],[13.9,1077],[14.2,988],[13.5,934],[6.5,881]];
const red10 = [[14.9,5071],[18.2,4963],[8.0,4415],[11.3,4046],[12.1,4046],[12.9,3837],[8.5,3539],[12.0,3610],[12.0,3479],[18.5,3563],[18.9,3324],[14.9,3229],[9.0,2979],[7.8,2943],[11.9,3002],[14.6,3002],[16.1,2871],[7.1,2788],[18.2,2776],[11.0,2633],[11.8,2591],[12.4,2657],[15.5,2663],[17.6,2657],[9.8,2543],[15.8,2579],[15.4,2514],[12.4,2412],[17.5,2430],[14.8,2281],[13.8,2073],[15.8,1882],[8.8,1745],[6.9,1393],[11.4,1447],[12.6,1364],[15.1,1441],[17.6,1220],[5.8,887],[8.9,946],[15.9,982]];
const red11 = [[20.3,5077],[16.9,4796],[14.2,4516],[13.2,4337],[18.7,4195],[9.8,3575],[13.6,3533],[16.5,3414],[12.1,3432],[7.8,3229],[5.7,2955],[5.9,2895],[7.7,3008],[12.2,3020],[14.4,2961],[19.9,2991],[12.8,2824],[17.3,2657],[9.6,2478],[16.2,2103],[10.3,1804],[11.2,1846],[6.6,1685],[8.1,1441],[9.3,1370],[10.9,1518],[11.4,1530],[10.0,1238],[8.9,1167],[15.1,553]];
const red12 = [[10.8,5023],[20.2,3980],[11.2,3837],[7.8,3658],[9.0,3658],[11.2,3610],[17.4,3902],[9.4,3354],[10.6,3467],[12.1,3515],[12.9,3384],[14.6,3223],[17.6,3253],[20.1,3098],[7.0,2949],[6.9,2710],[10.1,2782],[10.1,2746],[14.9,2728],[15.8,2704],[16.9,2925],[17.1,2895],[19.0,2663],[10.5,2496],[13.2,2192],[14.4,1888],[9.1,1441],[7.3,1250],[9.9,1208],[15.0,1208],[6.9,1012],[13.2,1042]];
const red13 = [[20.0,4373],[6.2,3884],[9.8,3723],[6.8,3670],[15.2,3700],[16.3,3801],[11.8,3414],[14.7,3295],[17.7,3342],[10.4,3122],[9.0,2979],[7.2,2937],[6.6,2865],[12.2,2907],[13.8,2937],[15.2,2979],[17.8,2979],[9.8,2818],[11.9,2835],[19.2,2824],[8.1,2722],[10.8,2668],[13.8,2698],[15.5,2752],[19.8,2728],[20.0,2627],[10.8,2537],[9.8,2293],[15.3,1775],[18.1,1351],[7.7,1191],[7.8,1149],[8.8,1089],[9.8,1125],[16.8,737]];
const red14 = [[9.1,4433],[18.4,3235],[14.8,3342],[13.9,3384],[14.8,3158],[16.9,2997],[19.2,3038],[7.9,3295],[7.1,2800],[6.9,2800],[10.3,2913],[10.7,2835],[12.7,2931],[14.2,2889],[15.1,2835],[9.7,2627],[8.7,2537],[15.0,1828],[9.0,1423],[10.3,1435],[9.4,1351],[11.9,1268],[14.9,1083],[7.3,1250],[6.7,851],[9.0,416]];
const red15 = [[7.8,4212],[13.1,4355],[14.2,3706],[15.0,3759],[6.8,3277],[13.9,3199],[9.0,3128],[7.4,3014],[6.0,2877],[9.9,2961],[11.6,2919],[12.1,2728],[15.1,2812],[17.8,2835],[16.6,2049],[7.8,1393],[8.9,1125],[14.6,1191],[14.8,1167],[14.1,1048],[8.9,833],[14.8,541]];
const red16 = [[6.0,4975],[8.9,3110],[12.4,3038],[15.7,3146],[11.0,2913],[7.3,2937],[6.3,2865],[12.6,2877],[13.5,2859],[13.8,2812],[13.9,2752],[15.9,2770],[15.9,2687],[10.7,2651],[14.2,2228],[7.0,1912],[10.9,1703],[7.0,1512],[6.9,1119]];
const red17 = [[6.1,3515],[6.5,3050]];

const normalByDay = [blue01, blue02, blue03, blue04, blue05, blue06, blue07, blue08, blue09,
    blue10, blue11, blue12, blue13, blue14, blue15, blue16, blue17];
const flaggedByDay = [red01, red02, red03, red04, red05, red06, red07, red08, red09,
    red10, red11, red12, red13, red14, red15, red16, red17];

// x is days since 2022-11-01 00:00
function toPoints(groups) {
    const pts = [];
    groups.forEach(function (day, d) {
        day.forEach(function (p) {
            pts.push({ x: d + p[0] / 24, y: p[1] });
        });
    });
    return pts;
}

// matplotlib-like closed frame round the plot area
const framePlugin = {
    id: 'frame',
    afterDraw: function (chart) {
        const a = chart.chartArea;
        const ctx = chart.ctx;
        ctx.save();
        ctx.strokeStyle = '#000';
        ctx.lineWidth = 1.1;
        ctx.strokeRect(a.left, a.top, a.right - a.left, a.bottom - a.top);
        ctx.restore();
    }
};

const tickFont = { family: 'DejaVu Sans', size: 13.9 };

const config = {
    type: 'scatter',
    data: {
        datasets: [
            {
                label: 'flagged',
                data: toPoints(flaggedByDay),
                backgroundColor: '#ff0000',
                borderWidth: 0,
                pointRadius: 1.4,
                order: 0
            },
            {
                label: 'normal',
                data: toPoints(normalByDay),
                backgroundColor: '#00008b',
                borderWidth: 0,
                pointRadius: 1.4,
                order: 1
            }
        ]
    },
    plugins: [framePlugin],
    options: {
        responsive: false,
        animation: false,
        devicePixelRatio: 1,
        layout: { padding: { left: 179, right: 200, top: 72, bottom: 20 } },
        plugins: {
            legend: { display: false },
            tooltip: { enabled: false }
        },
        scales: {
            x: {
                type: 'linear',
                min: -0.549,
                max: 17.09,
                afterBuildTicks: function (scale) {
                    scale.ticks = xTickDays.map(function (v) { return { value: v }; });
                },
                afterFit: function (scale) { scale.height = 46; },
                ticks: {
                    font: tickFont,
                    color: '#000',
                    padding: 4,
                    maxRotation: 0,
                    autoSkip: false,
                    callback: function (value) { return dayLabels[Math.round(value)]; }
                },
                grid: { display: true, drawOnChartArea: false, drawTicks: true, tickLength: 5, color: '#000', tickWidth: 1.1 },
                border: { display: false },
                title: { display: true, text: 'timestamp', font: tickFont, color: '#000', padding: { top: 4, bottom: 4 } }
            },
            y: {
                min: -330,
                max: 7935,
                afterBuildTicks: function (scale) {
                    scale.ticks = yTicks.map(function (v) { return { value: v }; });
                },
                afterFit: function (scale) { scale.width = 71; },
                ticks: {
                    font: tickFont,
                    color: '#000',
                    padding: 5,
                    autoSkip: false,
                    callback: function (value) { return String(value); }
                },
                grid: { display: true, drawOnChartArea: false, drawTicks: true, tickLength: 5, color: '#000', tickWidth: 1.1 },
                border: { display: false },
                title: { display: true, text: 'throughput', font: tickFont, color: '#000', padding: { top: 4, bottom: 4 } }
            }
        }
    }
};

new Chart(document.getElementById('chart'), config);
</script>
</body>
</html>
